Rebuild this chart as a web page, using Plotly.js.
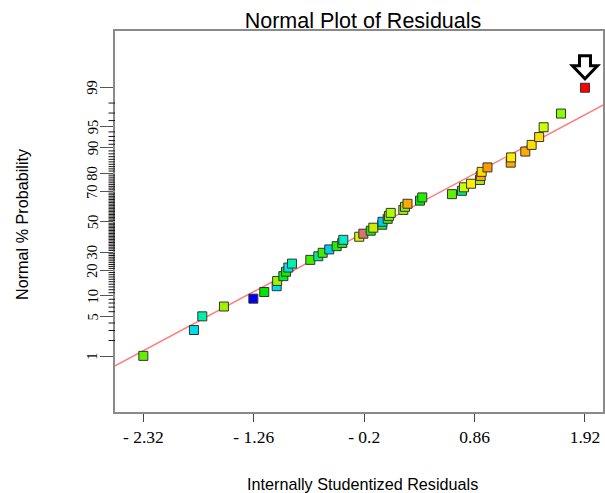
<!DOCTYPE html>
<html>
<head>
<meta charset="utf-8">
<script src="https://cdn.plot.ly/plotly-3.0.1.min.js"></script>
<style>
  html, body { margin: 0; padding: 0; background: #ffffff; }
  #chart { width: 605px; height: 493px; }
</style>
</head>
<body>
<div id="chart"></div>
<script>
// Internally studentized residuals, sorted ascending
const residuals = [
  -2.320, -1.834, -1.754, -1.546, -1.264, -1.159, -1.040, -1.035, -0.976, -0.950,
  -0.928, -0.893, -0.717, -0.640, -0.598, -0.535, -0.464, -0.410, -0.400, -0.247,
  -0.208, -0.137, -0.112, -0.026, -0.024,  0.026,  0.038,  0.055,  0.176,  0.192,
   0.216,  0.336,  0.358,  0.643,  0.739,  0.758,  0.826,  0.912,  0.919,  0.928,
   0.984,  1.207,  1.211,  1.347,  1.408,  1.480,  1.523,  1.690,  1.920
];

// Normal % probability of each ranked residual
const normalPercent = [
   1.02,  3.06,  5.10,  7.14,  9.18, 11.22, 13.27, 15.31, 17.35, 19.39,
  21.43, 23.47, 25.51, 27.55, 29.59, 31.63, 33.67, 35.71, 37.76, 39.80,
  41.84, 43.88, 45.92, 47.96, 50.00, 52.04, 54.08, 56.12, 58.16, 60.20,
  62.24, 64.29, 66.33, 68.37, 70.41, 72.45, 74.49, 76.53, 78.57, 80.61,
  82.65, 84.69, 86.73, 88.78, 90.82, 92.86, 94.90, 96.94, 98.98
];

// Reference line end points (residual, normal %)
const lineResidual = [-2.62, 2.12];
const linePercent = [0.59, 97.96];

// Axis tick labels
const xTickValues = [-2.32, -1.26, -0.2, 0.86, 1.92];
const xTickLabels = ['- 2.32', '- 1.26', '- 0.2', '0.86', '1.92'];
const yTickPercents = [1, 5, 10, 20, 30, 50, 70, 80, 90, 95, 99];

// Point colours (run colouring)
const pointColors = [
  '#66ee00', '#00dde8', '#00f0a8', '#a0f000', '#0000ee', '#00e600', '#00dcee', '#99f500', '#00ee22', '#11ee00',
  '#00dcee', '#00f0b0', '#44ee00', '#00ee88', '#44ee00', '#00ccee', '#22ee00', '#22ee00', '#00eecc', '#ccff00',
  '#dd7070', '#11ee00', '#ccee00', '#22ee22', '#00ccee', '#33ee00', '#99ee00', '#aaff00', '#aaee00', '#99ee00',
  '#ffaa00', '#00ee00', '#22ee00', '#66ee00', '#00ee77', '#ccff00', '#ffee00', '#aaee00', '#ffaa00', '#ffdd00',
  '#ff9900', '#ffaa00', '#ffee00', '#ffaa00', '#ffdd00', '#ffdd00', '#ccff00', '#88ff00', '#ff0000'
];

// Inverse standard normal CDF (Acklam's rational approximation)
function normInv(p) {
  const a = [-3.969683028665376e+01, 2.209460984245205e+02, -2.759285104469687e+02,
             1.383577518672690e+02, -3.066479806614716e+01, 2.506628277459239e+00];
  const b = [-5.447609879822406e+01, 1.615858368580409e+02, -1.556989798598866e+02,
             6.680131188771972e+01, -1.328068155288572e+01];
  const c = [-7.784894002430293e-03, -3.223964580411365e-01, -2.400758277161838e+00,
             -2.549671010984312e+00, 4.374664141464968e+00, 2.938163982698783e+00];
  const d = [7.784695709041462e-03, 3.224671290700398e-01, 2.445134137142996e+00,
             3.754408661907416e+00];
  const pl = 0.02425, ph = 1 - pl;
  let q, r;
  if (p < pl) {
    q = Math.sqrt(-2 * Math.log(p));
    return (((((c[0]*q + c[1])*q + c[2])*q + c[3])*q + c[4])*q + c[5]) /
           ((((d[0]*q + d[1])*q + d[2])*q + d[3])*q + 1);
  }
  if (p <= ph) {
    q = p - 0.5; r = q * q;
    return (((((a[0]*r + a[1])*r + a[2])*r + a[3])*r + a[4])*r + a[5]) * q /
           (((((b[0]*r + b[1])*r + b[2])*r + b[3])*r + b[4])*r + 1);
  }
  q = Math.sqrt(-2 * Math.log(1 - p));
  return -(((((c[0]*q + c[1])*q + c[2])*q + c[3])*q + c[4])*q + c[5]) /
          ((((d[0]*q + d[1])*q + d[2])*q + d[3])*q + 1);
}
const pctToZ = pct => normInv(pct / 100);

const pointZ = normalPercent.map(pctToZ);
const lastIdx = residuals.length - 1;

const zRange = [-3.29, 3.30];
const plotW = 605 - 115 - 2;
const zToPaper = z => (z - zRange[0]) / (zRange[1] - zRange[0]);

// Short minor ticks on every whole percent between 1 and 99
const minorPercents = [];
for (let k = 1; k <= 99; k++) {
  if (!yTickPercents.includes(k)) minorPercents.push(k);
}
const minorTickShapes = minorPercents.map(k => {
  const yp = zToPaper(pctToZ(k));
  return {
    type: 'line', xref: 'paper', yref: 'paper',
    x0: -6.5 / plotW, x1: 0, y0: yp, y1: yp,
    line: { color: '#1a1a1a', width: 1 }
  };
});

// Rotated probability labels beside the major ticks
const yLabelAnnotations = yTickPercents.map(pct => ({
  text: String(pct), xref: 'paper', yref: 'y',
  x: (92.5 - 115) / plotW, y: pctToZ(pct),
  xanchor: 'center', yanchor: 'middle', textangle: -90, showarrow: false,
  font: { family: 'Liberation Serif, Times New Roman, serif', size: 14.5, color: '#000000' }
}));

const traces = [
  {
    type: 'scatter', mode: 'lines',
    x: lineResidual, y: linePercent.map(pctToZ),
    line: { color: 'rgb(255,125,125)', width: 1.5 },
    hoverinfo: 'skip', showlegend: false
  },
  {
    type: 'scatter', mode: 'markers',
    x: residuals, y: pointZ,
    marker: {
      symbol: 'square', size: 9, color: pointColors,
      line: { color: '#333333', width: 1 }
    },
    showlegend: false
  }
];

const serif = 'Liberation Serif, Times New Roman, serif';
const sans = 'Liberation Sans, Arial, sans-serif';

const layout = {
  width: 605, height: 493,
  margin: { l: 115, r: 2, t: 31, b: 81 },
  paper_bgcolor: '#ffffff', plot_bgcolor: '#ffffff',
  showlegend: false,
  title: {
    text: 'Normal Plot of Residuals',
    font: { family: sans, size: 21.5, color: '#000000' },
    xref: 'container', x: 363 / 605, xanchor: 'center',
    yref: 'container', y: 1 - 20 / 493, yanchor: 'middle'
  },
  xaxis: {
    range: [-2.592, 2.093],
    tickmode: 'array', tickvals: xTickValues, ticktext: xTickLabels,
    ticks: 'outside', ticklen: 8, tickwidth: 1, tickcolor: '#444444',
    tickfont: { family: serif, size: 17.5, color: '#000000' },
    showline: true, mirror: true, linecolor: '#8a8a8a', linewidth: 2,
    showgrid: false, zeroline: false
  },
  yaxis: {
    range: zRange,
    tickmode: 'array', tickvals: yTickPercents.map(pctToZ),
    showticklabels: false,
    ticks: 'outside', ticklen: 13, tickwidth: 1, tickcolor: '#555555',
    showline: true, mirror: true, linecolor: '#8a8a8a', linewidth: 2,
    showgrid: false, zeroline: false
  },
  annotations: yLabelAnnotations.concat([
    {
      text: 'Internally Studentized Residuals',
      xref: 'paper', yref: 'paper',
      x: (362 - 115) / plotW, y: -(484 - 412) / 381,
      xanchor: 'center', yanchor: 'middle', showarrow: false,
      font: { family: sans, size: 16.2, color: '#000000' }
    },
    {
      text: 'Normal % Probability',
      xref: 'paper', yref: 'paper',
      x: (22 - 115) / plotW, y: (412 - 224) / 381,
      xanchor: 'center', yanchor: 'middle', textangle: -90, showarrow: false,
      font: { family: sans, size: 16.2, color: '#000000' }
    }
  ]),
  shapes: minorTickShapes.concat([
    {
      // hollow arrow flagging the largest residual
      type: 'path', xref: 'x', yref: 'y',
      xsizemode: 'pixel', ysizemode: 'pixel',
      xanchor: residuals[lastIdx], yanchor: pointZ[lastIdx],
      path: 'M -5.5,32 L 5.5,32 L 5.5,22 L 12.5,22 L 0,9 L -12.5,22 L -5.5,22 Z',
      line: { color: '#000000', width: 3 },
      fillcolor: '#ffffff'
    }
  ])
};

Plotly.newPlot('chart', traces, layout, { displayModeBar: false, staticPlot: true });
</script>
</body>
</html>
